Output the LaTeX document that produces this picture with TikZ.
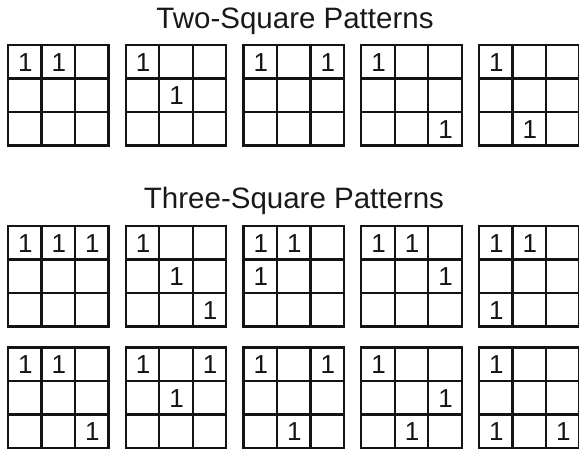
\documentclass[tikz,border=0pt]{standalone}
\usepackage{fontspec}
\setmainfont{Liberation Sans}
\newcommand\pgrid[4]{% id, x, y, list of row/col
  \draw[gridline] (#2,#3) rectangle ++(100.5,100.5);
  \foreach \i in {1,2} {
    \draw[gridline] ({#2+\i*33.5},#3) -- ++(0,100.5);
    \draw[gridline] (#2,{#3+\i*33.5}) -- ++(100.5,0);
  }
  \foreach \r/\c in {#4} {
    \node[digit] (g#1-\r\c) at ({#2+\c*33.5+17.3},{#3+\r*33.5+17.5}) {1};
  }
}
\begin{document}
\begin{tikzpicture}[x=1pt,y=-1pt,
  gridline/.style={line width=2.3pt, draw=black!92},
  digit/.style={font=\fontsize{26}{27}\selectfont, text=black!92, inner sep=0pt},
  title/.style={font=\fontsize{29.5}{30}\selectfont, text=black!90, inner sep=0pt, anchor=base}]
\useasboundingbox (0,0) rectangle (579,450);
\node[title] (t2) at (295,28.3) {Two-Square Patterns};
\node[title] (t3) at (294,208) {Three-Square Patterns};
% row 1
\pgrid{a}{8}{45}{0/0,0/1}
\pgrid{b}{125.8}{45}{0/0,1/1}
\pgrid{c}{243.5}{45}{0/0,0/2}
\pgrid{d}{361.3}{45}{0/0,2/2}
\pgrid{e}{479}{45}{0/0,2/1}
% row 2
\pgrid{f}{8}{226}{0/0,0/1,0/2}
\pgrid{g}{125.8}{226}{0/0,1/1,2/2}
\pgrid{h}{243.5}{226}{0/0,0/1,1/0}
\pgrid{i}{361.3}{226}{0/0,0/1,1/2}
\pgrid{j}{479}{226}{0/0,0/1,2/0}
% row 3
\pgrid{k}{8}{347.5}{0/0,0/1,2/2}
\pgrid{l}{125.8}{347.5}{0/0,0/2,1/1}
\pgrid{m}{243.5}{347.5}{0/0,0/2,2/1}
\pgrid{n}{361.3}{347.5}{0/0,1/2,2/1}
\pgrid{o}{479}{347.5}{0/0,2/0,2/2}
\end{tikzpicture}
\end{document}
